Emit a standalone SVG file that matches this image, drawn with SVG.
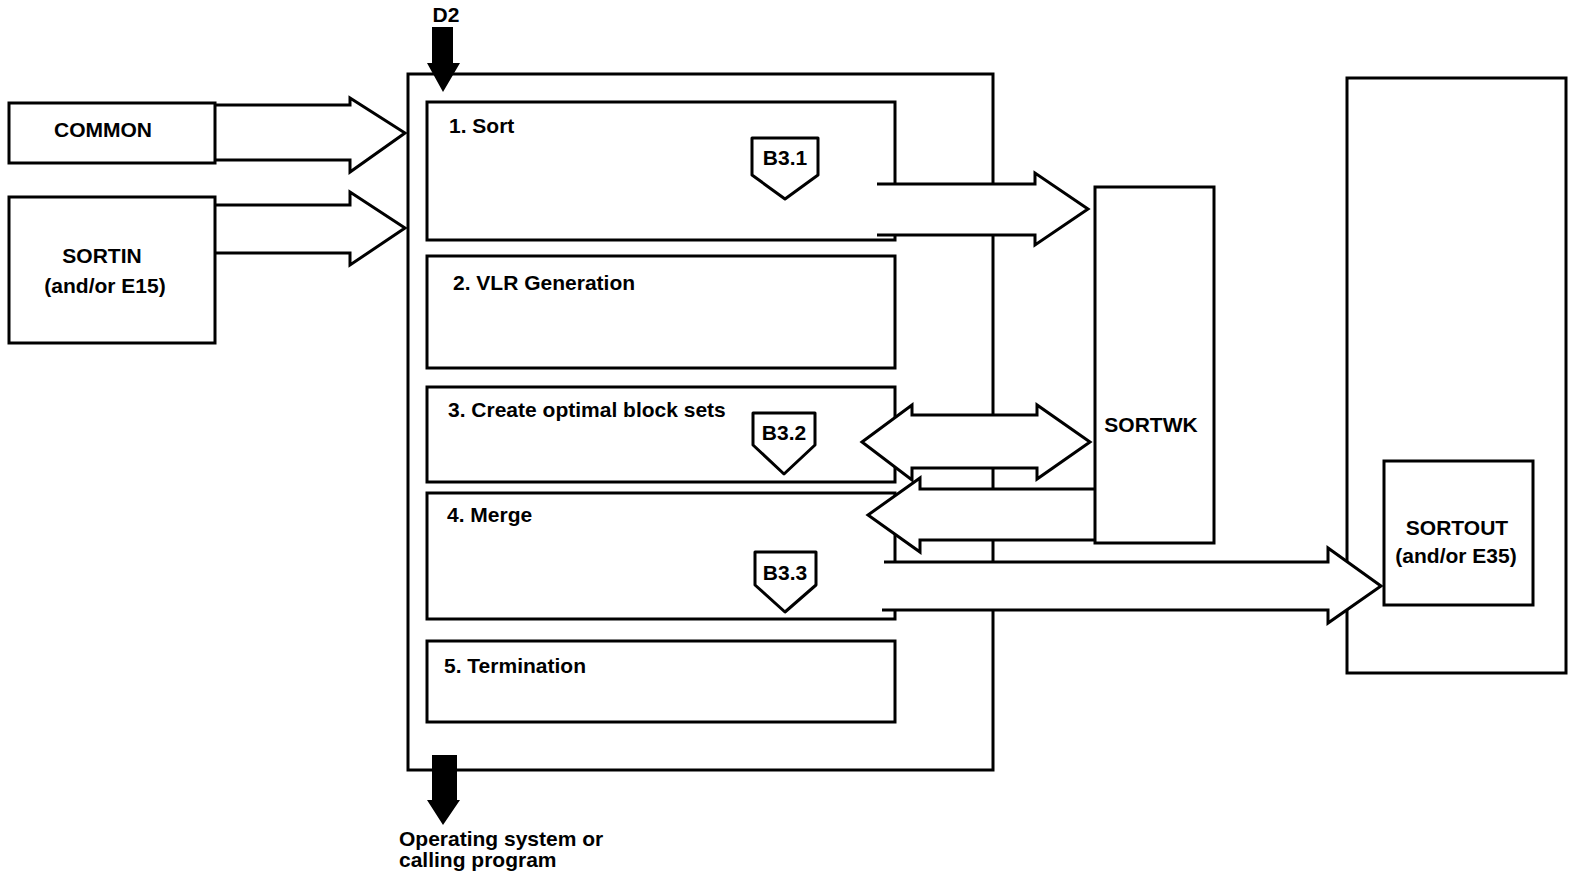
<svg xmlns="http://www.w3.org/2000/svg" width="1572" height="878" viewBox="0 0 1572 878">
<style>
.box{fill:#fff;stroke:#000;stroke-width:3}
.arr{fill:#fff;stroke:none}
.arl{fill:none;stroke:#000;stroke-width:3;stroke-linejoin:miter}
.blk{fill:#000;stroke:none}
.t{font-family:"Liberation Sans",Arial,sans-serif;font-weight:bold;font-size:21px;fill:#000}
.c{text-anchor:middle}
</style>
<rect width="1572" height="878" fill="#fff"/>
<g id="main">
<rect class="box" x="408" y="74" width="585" height="696"/>
</g>
<g id="sort">
<rect class="box" x="427" y="102" width="468" height="138"/>
<text class="t" x="449" y="133">1. Sort</text>
</g>
<g id="vlr">
<rect class="box" x="427" y="256" width="468" height="112"/>
<text class="t" x="453" y="290">2. VLR Generation</text>
</g>
<g id="create">
<rect class="box" x="427" y="387" width="468" height="95"/>
<text class="t" x="448" y="417">3. Create optimal block sets</text>
</g>
<g id="merge">
<rect class="box" x="427" y="493" width="468" height="126"/>
<text class="t" x="447" y="522">4. Merge</text>
</g>
<g id="term">
<rect class="box" x="427" y="641" width="468" height="81"/>
<text class="t" x="444" y="673">5. Termination</text>
</g>
<g id="common">
<rect class="box" x="9" y="103" width="206" height="60"/>
<text class="t c" x="103" y="137">COMMON</text>
</g>
<g id="sortin">
<rect class="box" x="9" y="197" width="206" height="146"/>
<text class="t c" x="102" y="263">SORTIN</text>
<text class="t c" x="105" y="293">(and/or E15)</text>
</g>
<g id="sortwk">
<rect class="box" x="1095" y="187" width="119" height="356"/>
<text class="t c" x="1151" y="432">SORTWK</text>
</g>
<g id="outer">
<rect class="box" x="1347" y="78" width="219" height="595"/>
</g>
<g id="sortout">
<rect class="box" x="1384" y="461" width="149" height="144"/>
<text class="t c" x="1457" y="535">SORTOUT</text>
<text class="t c" x="1456" y="563">(and/or E35)</text>
</g>
<g id="d2">
<text class="t c" x="446" y="22">D2</text>
</g>
<g id="os">
<text class="t" x="399" y="846" font-size="20">Operating system or</text>
<text class="t" x="399" y="867" font-size="20">calling program</text>
</g>
<g id="badges">
<g id="b31">
<path class="box" stroke-linejoin="round" d="M752,138 H818 V175 L785,199 L752,175 Z"/>
<text class="t c" x="785" y="165">B3.1</text>
</g>
<g id="b32">
<path class="box" stroke-linejoin="round" d="M753,413 H815 V445 L784,474 L753,445 Z"/>
<text class="t c" x="784" y="440">B3.2</text>
</g>
<g id="b33">
<path class="box" stroke-linejoin="round" d="M755,552 H816 V585 L785,612 L755,585 Z"/>
<text class="t c" x="785" y="580">B3.3</text>
</g>
</g>
<g id="connectors">
<path class="arr" d="M217,105 H350 V98 L405,133 L350,172 V160 H217 Z"/>
<path class="arl" d="M214,105 H350 V98 L405,133 L350,172 V160 H214"/>
<path class="arr" d="M217,205 H350 V192 L405,228 L350,265 V253 H217 Z"/>
<path class="arl" d="M215,205 H350 V192 L405,228 L350,265 V253 H215"/>
<path class="arr" d="M877,184 H1035 V173 L1088,209 L1035,245 V235 H877 Z"/>
<path class="arl" d="M877,184 H1035 V173 L1088,209 L1035,245 V235 H877"/>
<path class="box" d="M862,442 L912,405 V415 H1037 V405 L1090,442 L1037,479 V468 H912 V480 Z"/>
<path class="arr" d="M1093,489 H920 V478 L868,515 L920,552 V540 H1093 Z"/>
<path class="arl" d="M1094,489 H920 V478 L868,515 L920,552 V540 H1094"/>
<path class="arr" d="M884,562 H1328 V548 L1381,586 L1328,623 V610 H882 Z"/>
<path class="arl" d="M884,562 H1328 V548 L1381,586 L1328,623 V610 H882"/>
<path class="blk" d="M432,27 H453 V63 H460 L443,92 L427,63 H432 Z"/>
<path class="blk" d="M432,755 H457 V800 H460 L443,825 L427,800 H432 Z"/>
</g>
</svg>
